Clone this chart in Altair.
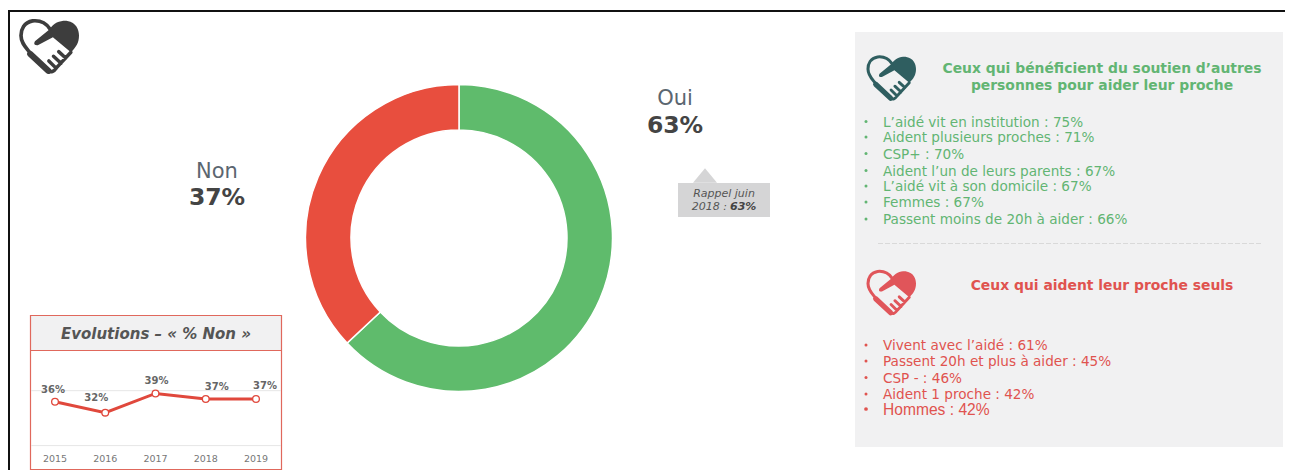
import altair as alt
import pandas as pd

# ---- data ----
answers = ["Oui", "Non"]
answer_values = [63, 37]
years = ["2015", "2016", "2017", "2018", "2019"]
non_values = [36, 32, 39, 37, 37]
label_dx = [-2, -9, 1, 11, 9]
label_dy = [-12, -15, -12, -12, -13]
green_title = ["Ceux qui bénéficient du soutien d’autres", "personnes pour aider leur proche"]
green_items = ["L’aidé vit en institution : 75%", "Aident plusieurs proches : 71%", "CSP+ : 70%",
               "Aident l’un de leurs parents : 67%", "L’aidé vit à son domicile : 67%",
               "Femmes : 67%", "Passent moins de 20h à aider : 66%"]
red_title = "Ceux qui aident leur proche seuls"
red_items = ["Vivent avec l’aidé : 61%", "Passent 20h et plus à aider : 45%", "CSP - : 46%",
             "Aident 1 proche : 42%"]
red_last = "Hommes : 42%"

GREEN, RED, GREEN_T, RED_T = "#5fbb6c", "#e84e3e", "#62b573", "#e0534f"
PANEL, DARK = "#f1f1f2", "#444444"
OX, OY = 8, 8
FONT = "DejaVu Sans"
dummy = pd.DataFrame({"a": [0]})
layers = []


def px(v):
    return alt.value(v - OX)


def py(v):
    return alt.value(v - OY)


def txt(s, x, y, size=11, color=DARK, align="center", weight="normal", style="normal", font=FONT):
    layers.append(alt.Chart(pd.DataFrame({"t": [s]})).mark_text(
        fontSize=size, color=color, align=align, baseline="middle", fontWeight=weight,
        fontStyle=style, font=font).encode(x=px(x), y=py(y + 1), text="t:N"))


def box(x1, x2, y1, y2, fill=None, stroke=None, sw=1):
    kw = {"fill": fill if fill else "transparent"}
    if stroke:
        kw.update(stroke=stroke, strokeWidth=sw)
    layers.append(alt.Chart(dummy).mark_rect(**kw).encode(x=px(x1), x2=px(x2), y=py(y1), y2=py(y2)))


def shape(path, x, y, half, fill=None, stroke=None, sw=1):
    kw = dict(shape=path, opacity=1, size=(2 * half) ** 2, filled=bool(fill))
    if fill:
        kw["fill"] = fill
    if stroke:
        kw.update(stroke=stroke, strokeWidth=sw, filled=False, strokeCap="round", strokeJoin="round")
    layers.append(alt.Chart(dummy).mark_point(**kw).encode(x=px(x), y=py(y)))


def bullet(y, color, size=9):
    layers.append(alt.Chart(dummy).mark_point(filled=True, fill=color, size=size, opacity=1).encode(
        x=px(866), y=py(y)))


HEART_R = ("M-0.52,-0.2 L0,-0.62 C0.12,-0.85 0.4,-0.92 0.6,-0.9 C0.9,-0.85 1,-0.6 1,-0.4 "
           "C1,-0.15 0.9,0 0.72,0.18 L0.1,-0.34 L-0.42,-0.06 Q-0.6,-0.05 -0.52,-0.2 Z")
HEART_L = "M0,-0.62 C-0.15,-0.85 -0.4,-0.92 -0.6,-0.9 C-0.9,-0.85 -1,-0.6 -1,-0.4 C-1,-0.15 -0.85,0 -0.72,0.16"
KNUCK = "M-0.68,0.24 L-0.06,0.82"
HAND = ("M0.72,0.18 L0.22,0.72 Q0.08,0.92 -0.06,0.82 M0.3,0.16 L0.54,0.38 "
        "M0.12,0.32 L0.38,0.56 M-0.04,0.48 L0.2,0.72")


def icon(x, y, half, color):
    k = half / 30
    shape(HEART_R, x, y, half, fill=color)
    shape(HEART_L, x, y, half, stroke=color, sw=3.8 * k)
    shape(KNUCK, x, y, half, stroke=color, sw=6.5 * k)
    shape(HAND, x, y, half, stroke=color, sw=3.6 * k)


# ---- frame ----
layers.append(alt.Chart(dummy).mark_rule(color="#111111", strokeWidth=2).encode(
    x=alt.value(1), y=py(10), y2=py(471)))
layers.append(alt.Chart(dummy).mark_rule(color="#111111", strokeWidth=2).encode(
    x=px(8), x2=px(1293), y=py(11)))
icon(50, 47, 29, "#3d3d3d")

# ---- donut ----
donut = pd.DataFrame({"answer": answers, "value": answer_values, "ord": [0, 1]})
layers.append(alt.Chart(donut).mark_arc(outerRadius=153.5, innerRadius=108, stroke="white", strokeWidth=1.5).encode(
    x=px(459), y=py(238),
    theta=alt.Theta("value:Q", stack=True),
    order=alt.Order("ord:Q"),
    color=alt.Color("answer:N", legend=None,
                    scale=alt.Scale(domain=answers, range=[GREEN, RED]))))
txt(answers[0], 675, 98, size=21, color="#5b6670")
txt(f"{answer_values[0]}%", 675, 125, size=23.5, weight="bold")
txt(answers[1], 217, 171, size=21, color="#5b6670")
txt(f"{answer_values[1]}%", 217, 197, size=23.5, weight="bold")

# ---- reminder ----
box(678, 770, 183, 217, fill="#d5d5d6")
shape("M-1,0.6 L0,-0.6 L1,0.6 Z", 705, 175.5, 12, fill="#d5d5d6")
txt("Rappel juin", 724, 193, size=11, style="italic", color="#555555")
txt("2018 :", 727, 206, size=11, style="italic", color="#555555", align="right")
txt("63%", 730, 206, size=11, style="italic", weight="bold", align="left")

# ---- evolution box ----
box(30.5, 281.5, 315.5, 350.5, fill=PANEL)
box(30.5, 281.5, 315.5, 469.5, stroke="#e0685c", sw=1.2)
layers.append(alt.Chart(dummy).mark_rule(color="#e0685c", strokeWidth=1.2).encode(
    x=px(30.5), x2=px(281.5), y=py(350.5)))
txt("Evolutions – « % Non »", 156, 333, size=15, weight="bold", style="italic", color="#555555")

line = pd.DataFrame({"year": years, "value": non_values, "dx": label_dx, "dy": label_dy})
xs = alt.X("year:O", axis=None, scale=alt.Scale(domain=years, range=[55 - OX, 256 - OX], padding=0))
ys = alt.Y("value:Q", axis=None, scale=alt.Scale(domain=[20, 40], range=[445.6 - OY, 390.7 - OY]))
grid = pd.DataFrame({"value": [20, 40]})
layers.append(alt.Chart(grid).mark_rule(color="#e6e6e6", strokeWidth=1).encode(
    x=px(31), x2=px(281), y=ys))
layers.append(alt.Chart(line).mark_line(color="#e0483c", strokeWidth=3).encode(x=xs, y=ys))
layers.append(alt.Chart(line).mark_point(filled=True, fill="white", stroke="#e0483c", strokeWidth=1.3,
                                         size=45, opacity=1).encode(x=xs, y=ys))
for i, row in line.iterrows():
    layers.append(alt.Chart(line.iloc[[i]]).transform_calculate(lab="datum.value + '%'").mark_text(
        fontSize=10, fontWeight="bold", color="#666666", font=FONT, dx=int(row.dx), dy=int(row.dy)
    ).encode(x=xs, y=ys, text="lab:N"))
layers.append(alt.Chart(line).mark_text(fontSize=9.5, color="#777777", font=FONT).encode(
    x=xs, y=py(459), text="year:N"))

# ---- side panel ----
box(855, 1283, 32, 447, fill=PANEL)
icon(892, 78.5, 24, "#2f5e60")
txt(green_title[0], 1102, 68, size=13.9, weight="bold", color=GREEN_T)
txt(green_title[1], 1102, 85, size=13.9, weight="bold", color=GREEN_T)
green_y = [121.5, 137, 153.5, 170.5, 186, 202, 219]
for s, y in zip(green_items, green_y):
    txt(s, 883, y, size=13.6, color=GREEN_T, align="left")
    bullet(y, GREEN_T)
layers.append(alt.Chart(dummy).mark_rule(color="#d9d9d9", strokeDash=[5, 2]).encode(
    x=px(878), x2=px(1262), y=py(243.5)))
icon(892, 293, 24, "#e0555a")
txt(red_title, 1102, 285, size=13.9, weight="bold", color=RED_T)
red_y = [345, 361, 377.5, 394]
for s, y in zip(red_items, red_y):
    txt(s, 883, y, size=13.6, color=RED_T, align="left")
    bullet(y, RED_T)
txt(red_last, 883, 409, size=15.6, color=RED_T, align="left", font="Liberation Sans")
bullet(409, RED_T, size=14)

chart = alt.layer(*layers).properties(
    width=1277, height=462, padding=0, autosize=alt.AutoSizeParams(type="none"), background="white"
).configure_view(stroke=None)
chart.save("out.html", embed_options={"renderer": "svg", "actions": False})
